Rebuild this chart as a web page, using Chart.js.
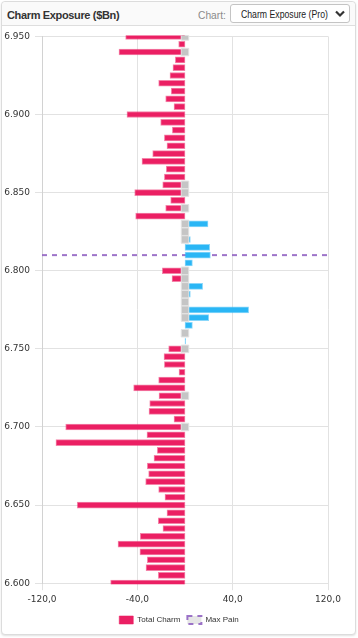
<!DOCTYPE html>
<html>
<head>
<meta charset="utf-8">
<script src="https://cdn.jsdelivr.net/npm/chart.js@4.4.1/dist/chart.umd.min.js"></script>
<style>
  html, body { margin: 0; padding: 0; background: #ffffff; }
  body { width: 358px; height: 638px; position: relative; overflow: hidden; font-family: 'Liberation Sans', Arial, sans-serif; }
  #card { position: absolute; left: 1px; top: 1px; width: 353px; height: 632px; border: 1px solid #dcdcdc; border-radius: 4px; box-shadow: 0 1px 2px rgba(0,0,0,0.12); background: #fff; }
  #head { position: absolute; left: 0; top: 0; width: 353px; height: 23px; border-bottom: 1px solid #dedede; background: #fafafa; border-radius: 4px 4px 0 0; }
  #title { position: absolute; left: 5px; top: 7px; font-size: 11px; line-height: 13px; font-weight: bold; color: #333; letter-spacing: -0.35px; white-space: nowrap; }
  #chartlbl { position: absolute; left: 196px; top: 7px; font-size: 11px; line-height: 13px; color: #8a8a8a; white-space: nowrap; transform: scaleX(0.93); transform-origin: 0 0; }
  #sel { position: absolute; left: 228px; top: 2px; width: 118px; height: 17px; border: 1px solid #c4c4c4; border-radius: 3px; background: #fff; }
  #seltxt { position: absolute; left: 10px; top: 3px; font-size: 11px; line-height: 13px; color: #222; white-space: nowrap; transform: scaleX(0.79); transform-origin: 0 0; }
  #chev { position: absolute; left: 104px; top: 5px; }
  #wrap { position: absolute; left: 0; top: 26px; width: 358px; height: 608px; }
</style>
</head>
<body>
<div id="card">
  <div id="head">
    <div id="title">Charm Exposure ($Bn)</div>
    <div id="chartlbl">Chart:</div>
    <div id="sel"><span id="seltxt">Charm Exposure (Pro)</span>
      <svg id="chev" width="10" height="8" viewBox="0 0 10 8"><polyline points="1,1.5 5,5.5 9,1.5" fill="none" stroke="#333" stroke-width="2.2"/></svg>
    </div>
  </div>
</div>
<div id="wrap"><canvas id="c"></canvas></div>
<script>
// ---- data ----
const strikes = [
  6.950, 6.945, 6.940, 6.935, 6.930, 6.925, 6.920, 6.915, 6.910, 6.905,
  6.900, 6.895, 6.890, 6.885, 6.880, 6.875, 6.870, 6.865, 6.860, 6.855,
  6.850, 6.845, 6.840, 6.835, 6.830, 6.825, 6.820, 6.815, 6.810, 6.805,
  6.800, 6.795, 6.790, 6.785, 6.780, 6.775, 6.770, 6.765, 6.760, 6.755,
  6.750, 6.745, 6.740, 6.735, 6.730, 6.725, 6.720, 6.715, 6.710, 6.705,
  6.700, 6.695, 6.690, 6.685, 6.680, 6.675, 6.670, 6.665, 6.660, 6.655,
  6.650, 6.645, 6.640, 6.635, 6.630, 6.625, 6.620, 6.615, 6.610, 6.605,
  6.600
];
const totalCharm = [
  -49.8, -5.3, -55.4, -8.1, -10.1, -12.6, -22.1, -11.5, -16.2, -9.2,
  -48.7, -20.4, -10.6, -17.3, -15.1, -27.1, -36.1, -15.7, -17.3, -18.7,
  -42.2, -12.0, -16.2, -41.4, 19.3, 0, 4.5, 20.7, 21.3, 6.2,
  -19.0, -10.9, 14.8, 4.5, 0, 53.4, 19.9, 6.2, 0, 0.4,
  -13.7, -17.6, -17.3, -5.0, -22.1, -43.1, -21.8, -29.6, -30.2, -9.2,
  -100.1, -31.9, -108.3, -23.2, -26.0, -31.6, -30.5, -33.0, -22.1, -16.8,
  -90.4, -15.1, -22.4, -18.5, -37.5, -56.2, -37.8, -31.6, -32.7, -22.4,
  -62.4
];
const markerStrikes = [6.950, 6.940, 6.855, 6.850, 6.840, 6.830, 6.825, 6.820, 6.800, 6.795,
  6.790, 6.785, 6.780, 6.775, 6.770, 6.760, 6.750, 6.720, 6.700];
const maxPainStrike = 6.810;
const xTickValues = [-120, -40, 40, 120];
const yTickValues = [6.60, 6.65, 6.70, 6.75, 6.80, 6.85, 6.90, 6.95];
const xRange = [-120, 120];
const yRange = [6.60, 6.95];

// ---- chart ----
const RED = '#eb1f63', RED_EDGE = 'rgba(235,31,99,0.55)';
const BLUE = '#2ab6f5', BLUE_EDGE = 'rgba(42,182,245,0.55)';
const tickFont = { family: "'DejaVu Sans', Verdana, sans-serif", size: 9 };

// nudge the (chart-area wide) legend slightly left, as in the original
const legendShift = {
  id: 'legendShift',
  afterLayout(chart) {
    const lg = chart.legend;
    if (lg) { lg.left -= 6; lg.right -= 6; }
  }
};

new Chart(document.getElementById('c'), {
  data: {
    datasets: [
      {
        type: 'bar',
        label: 'Total Charm',
        order: 1,
        data: strikes.map((s, i) => ({ x: totalCharm[i], y: s })),
        backgroundColor: c => (c.raw && c.raw.x > 0) ? BLUE : RED,
        borderColor: c => (c.raw && c.raw.x > 0) ? BLUE_EDGE : RED_EDGE,
        borderWidth: 1,
        borderSkipped: false,
        barThickness: 6,
        clip: 1
      },
      {
        type: 'line',
        label: 'Max Pain',
        order: 2,
        data: [{ x: xRange[0], y: maxPainStrike }, { x: xRange[1], y: maxPainStrike }],
        borderColor: 'rgba(140,92,192,0.85)',
        backgroundColor: '#e6e6e6',
        borderWidth: 2,
        borderDash: [5, 5],
        pointRadius: 0,
        fill: false
      },
      {
        type: 'line',
        label: 'markers',
        order: 0,
        data: markerStrikes.map(s => ({ x: 0, y: s })),
        showLine: false,
        pointStyle: 'rect',
        pointRadius: 5.3,
        pointBackgroundColor: '#c5c5c5',
        pointBorderColor: '#e3e3e3',
        pointBorderWidth: 1,
        clip: 1
      }
    ]
  },
  options: {
    indexAxis: 'y',
    responsive: true,
    maintainAspectRatio: false,
    animation: false,
    events: [],
    layout: { padding: { left: 3, right: 30, top: 9, bottom: 0 } },
    scales: {
      x: {
        type: 'linear',
        min: xRange[0], max: xRange[1],
        afterBuildTicks: s => { s.ticks = xTickValues.map(v => ({ value: v })); },
        ticks: { font: tickFont, color: '#333', padding: 4, maxRotation: 0,
                 callback: v => Number(v).toFixed(1).replace('.', ',') },
        grid: { color: '#e2e2e2', tickLength: 7, lineWidth: 1 },
        border: { display: false }
      },
      y: {
        type: 'linear',
        min: yRange[0], max: yRange[1],
        offset: false,
        afterBuildTicks: s => { s.ticks = yTickValues.map(v => ({ value: v })); },
        afterFit: s => { s.width = 39; },
        ticks: { font: tickFont, color: '#333', padding: 5,
                 callback: v => Number(v).toFixed(3) },
        grid: { color: '#e2e2e2', tickLength: 7, lineWidth: 1, offset: false },
        border: { display: true, color: '#d2d2d2' }
      }
    },
    plugins: {
      tooltip: { enabled: false },
      legend: {
        position: 'bottom',
        fullSize: false,
        labels: {
          boxWidth: 14, boxHeight: 8, padding: 7, color: '#333',
          font: { family: "'Liberation Sans', Arial, sans-serif", size: 8 },
          filter: item => item.datasetIndex !== 2,
          sort: (a, b) => a.datasetIndex - b.datasetIndex
        }
      }
    }
  },
  plugins: [legendShift]
});
</script>
</body>
</html>
